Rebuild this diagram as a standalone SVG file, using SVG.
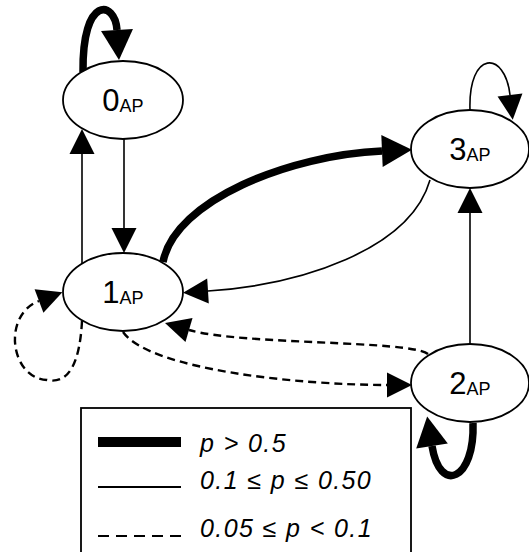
<svg xmlns="http://www.w3.org/2000/svg" width="529" height="552" viewBox="0 0 529 552">
<style>
.node{fill:#fff;stroke:#000;stroke-width:1.8}
.lbl{font-family:"Liberation Sans",Arial,sans-serif;font-size:31px;fill:#000;text-anchor:middle}
.sub{font-size:18px}
.thin{fill:none;stroke:#000;stroke-width:1.6}
.thick{fill:none;stroke:#000;stroke-width:7.5}
.dash{fill:none;stroke:#000;stroke-width:2.4;stroke-dasharray:8 5}
.leg{font-family:"Liberation Sans",Arial,sans-serif;font-size:25px;font-style:italic;letter-spacing:1.4px;fill:#000}
</style>
<defs>
<marker id="aThin" markerUnits="userSpaceOnUse" markerWidth="26" markerHeight="26" refX="0" refY="12.5" orient="auto" overflow="visible">
<path d="M0,0 L25,12.5 L0,25 z" fill="#000"/>
</marker>
<marker id="aThick" markerUnits="userSpaceOnUse" markerWidth="32" markerHeight="32" refX="0" refY="16" orient="auto" overflow="visible">
<path d="M0,0 L30,16 L0,32 z" fill="#000"/>
</marker>
</defs>
<g id="connectors">
<path class="thick" d="M83,72 C82,-5 115,0 117,30" marker-end="url(#aThick)"/>
<path class="thin" d="M82,263 L82,154" marker-end="url(#aThin)"/>
<path class="thin" d="M124,139 L124,228" marker-end="url(#aThin)"/>
<path class="thick" d="M163,262 C175,200 290,155 382,151" marker-end="url(#aThick)"/>
<path class="thin" d="M430,180 C410,250 300,285 208,291" marker-end="url(#aThin)"/>
<path class="thin" d="M470,110 C468,50 505,50 510,95" marker-end="url(#aThin)"/>
<path class="thin" d="M470,344 L470,213" marker-end="url(#aThin)"/>
<path class="dash" d="M123,332 C150,370 300,385 387,385" marker-end="url(#aThin)"/>
<path class="dash" d="M428,354 C410,340 240,345 189,330" marker-end="url(#aThin)"/>
<path class="dash" d="M82,321 C80,360 70,385 47,380 C10,378 2,315 39,301" marker-end="url(#aThin)"/>
<path class="thick" d="M473,423 C475,480 440,495 432,446" marker-end="url(#aThick)"/>
</g>
<g id="n0">
<ellipse class="node" cx="123" cy="100" rx="60" ry="39"/>
<text class="lbl" x="123" y="111">0<tspan class="sub" dy="1">AP</tspan></text>
</g>
<g id="n1">
<ellipse class="node" cx="123" cy="292" rx="60" ry="39"/>
<text class="lbl" x="123" y="303">1<tspan class="sub" dy="1">AP</tspan></text>
</g>
<g id="n3">
<ellipse class="node" cx="470" cy="149" rx="59" ry="39"/>
<text class="lbl" x="470" y="160">3<tspan class="sub" dy="1">AP</tspan></text>
</g>
<g id="n2">
<ellipse class="node" cx="470" cy="383" rx="59" ry="39"/>
<text class="lbl" x="470" y="394">2<tspan class="sub" dy="1">AP</tspan></text>
</g>
<g id="legend">
<rect x="81" y="408" width="330" height="160" fill="#fff" stroke="#000" stroke-width="1.8"/>
<rect x="98" y="437" width="83" height="10" fill="#000"/>
<line x1="98" y1="487" x2="181" y2="487" stroke="#000" stroke-width="1.8"/>
<line x1="98" y1="536" x2="181" y2="536" stroke="#000" stroke-width="2" stroke-dasharray="11 7"/>
<text class="leg" x="200" y="452">p &gt; 0.5</text>
<text class="leg" x="200" y="489">0.1 ≤ p ≤ 0.50</text>
<text class="leg" x="200" y="537">0.05 ≤ p &lt; 0.1</text>
</g>
</svg>
